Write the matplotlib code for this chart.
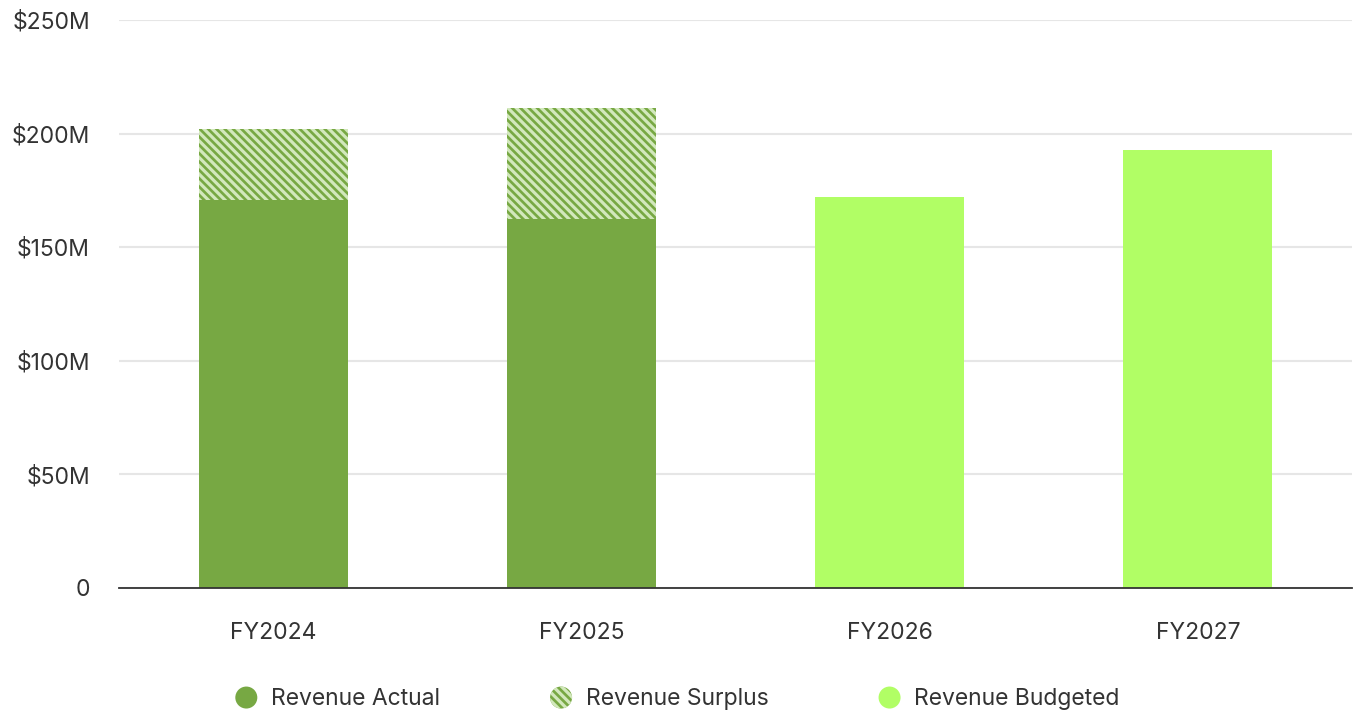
import matplotlib
matplotlib.use("Agg")
import matplotlib.pyplot as plt
import matplotlib.patches as mpatches
from matplotlib.legend_handler import HandlerPatch
from matplotlib.ticker import FuncFormatter

# Fiscal years and revenue figures ($M)
years = ["FY2024", "FY2025", "FY2026", "FY2027"]
revenue_actual = [170.6, 162.3, 0, 0]
revenue_surplus = [31.6, 49.1, 0, 0]
revenue_budgeted = [0, 0, 171.9, 192.6]
y_ticks = [0, 50, 100, 150, 200, 250]

ACTUAL = "#77a843"
BUDGET = "#b1fe65"
HATCH = "#d2e8bc"
TEXT = "#333333"
FS = 16.5

plt.rcParams["font.family"] = ["Inter", "DejaVu Sans"]
plt.rcParams["hatch.linewidth"] = 2.3

fig = plt.figure(figsize=(13.55, 7.11), dpi=100)
ax = fig.add_axes([119 / 1355, 1 - 588 / 711, (1352 - 119) / 1355, (588 - 20) / 711])

x = range(len(years))
w = 0.484
ax.bar(x, revenue_actual, width=w, color=ACTUAL, linewidth=0, zorder=3)
ax.bar(x, revenue_surplus, width=w, bottom=revenue_actual, facecolor=ACTUAL,
       edgecolor=HATCH, hatch="\\" * 4, linewidth=0, zorder=3)
ax.bar(x, revenue_budgeted, width=w, color=BUDGET, linewidth=0, zorder=3)

ax.set_xlim(-0.5, len(years) - 0.5)
ax.set_ylim(0, 250)
ax.set_yticks(y_ticks)
ax.yaxis.set_major_formatter(FuncFormatter(lambda v, _: "0" if v == 0 else f"${v:.0f}M"))
ax.set_xticks(list(x))
ax.set_xticklabels(years)

ax.grid(axis="y", color="#e6e6e6", linewidth=1.5, zorder=0)
ax.set_axisbelow(True)
for side in ("top", "right", "left"):
    ax.spines[side].set_visible(False)
ax.spines["bottom"].set_color("#333333")
ax.spines["bottom"].set_linewidth(1.3)
ax.spines["bottom"].set_zorder(4)
ax.tick_params(axis="both", length=0, labelsize=FS, colors=TEXT)
ax.tick_params(axis="y", pad=21)
ax.tick_params(axis="x", pad=24.5)


class CircleHandler(HandlerPatch):
    def create_artists(self, legend, orig_handle, xdescent, ydescent,
                       width, height, fontsize, trans):
        r = 0.5 * width
        c = mpatches.Circle((width / 2 - xdescent, height / 2 - ydescent), r)
        self.update_prop(c, orig_handle, legend)
        c.set_transform(trans)
        return [c]


handles = [
    mpatches.Patch(facecolor=ACTUAL, linewidth=0, label="Revenue Actual"),
    mpatches.Patch(facecolor=ACTUAL, edgecolor=HATCH, hatch="\\" * 4, linewidth=0,
                   label="Revenue Surplus"),
    mpatches.Patch(facecolor=BUDGET, linewidth=0, label="Revenue Budgeted"),
]
fig.legend(handles=handles, loc="center", bbox_to_anchor=(0.5, 1 - 699 / 711),
           ncol=3, frameon=False, fontsize=FS, labelcolor=TEXT,
           handlelength=0.96, handleheight=0.96, handletextpad=0.6,
           columnspacing=4.8,
           handler_map={mpatches.Patch: CircleHandler()})

fig.savefig("out.png", dpi=100)
